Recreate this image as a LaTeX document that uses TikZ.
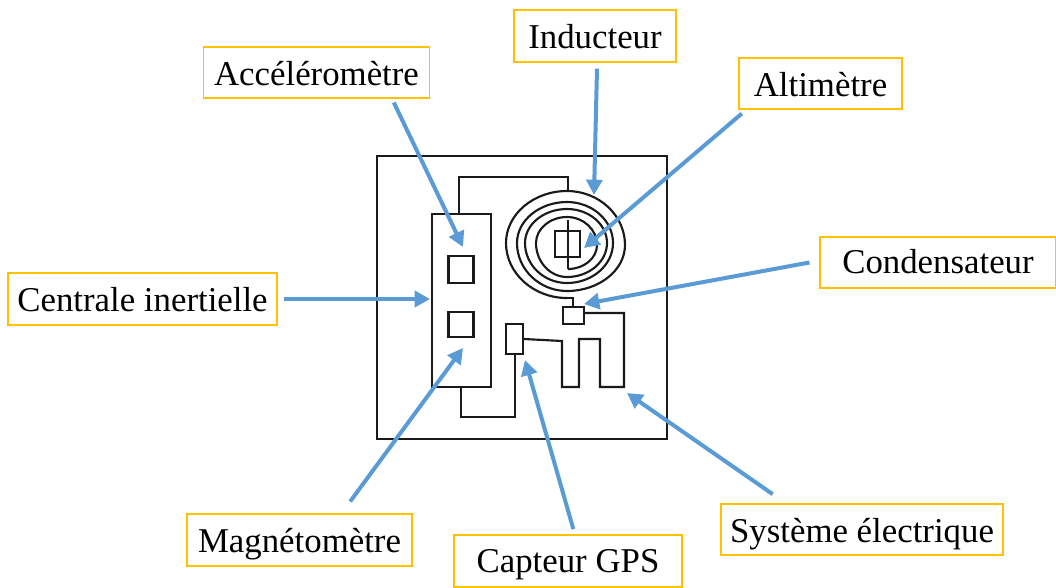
\documentclass[tikz,border=0pt]{standalone}
\usepackage{fontspec}
\setmainfont{Liberation Serif}
\usetikzlibrary{arrows.meta}
\definecolor{labelorange}{HTML}{FFC000}
\definecolor{arrowblue}{HTML}{5B9BD5}
\definecolor{inkblack}{HTML}{1A1A1A}
\newcommand{\lowtext}[2]{\raisebox{#1}[0pt][0pt]{#2}}
% quarter-ellipse pieces: from a point on the vertical axis to one on the horizontal axis, and back
\newcommand{\vtoh}[4]{.. controls ({#1+0.55*(#3-#1)},#2) and (#3,{#4+0.55*(#2-#4)}) .. (#3,#4)}
\newcommand{\htov}[4]{.. controls (#1,{#2+0.55*(#4-#2)}) and ({#3+0.55*(#1-#3)},#4) .. (#3,#4)}
\tikzset{
  x=0.75pt,y=-0.75pt,
  lab/.style={draw=labelorange,line width=0.8pt,inner sep=0pt,align=center,text height=20pt,text depth=4pt,font=\fontsize{26.1pt}{30pt}\selectfont,text=black},
  ink/.style={draw=inkblack,line width=1.6pt,line join=miter},
  part/.style={draw=inkblack,line width=1.6pt,inner sep=0pt,fill=white},
  arr/.style={draw=arrowblue,line width=3pt,-{Triangle[length=11.5pt,width=12pt]}}
}
\begin{document}
\begin{tikzpicture}
\useasboundingbox (0,0) rectangle (1056,587);
% frame
\node[part,fill=none,minimum width=217.5pt,minimum height=212.25pt] (frame) at (522,297.5) {};
% inertial unit and its sensors
\node[part,minimum width=44.25pt,minimum height=129.75pt] (imu) at (461.5,300.5) {};
\node[part,minimum width=18.75pt,minimum height=20.25pt] (sa) at (461,269.5) {};
\node[part,minimum width=18.75pt,minimum height=18.75pt] (sm) at (461,324.5) {};
% GPS sensor and capacitor
\node[part,minimum width=12.75pt,minimum height=22.5pt] (gps) at (514.5,339) {};
\node[part,minimum width=15.75pt,minimum height=12.75pt] (cap) at (573.5,315.5) {};
% altimeter
\node[part,fill=none,minimum width=18.75pt,minimum height=19.5pt] (alt) at (567.5,244) {};
% wiring
\draw[ink] (459,214) -- (459,177) -- (568,177) -- (568,191);
\draw[ink] (461,387) -- (461,417) -- (515,417) -- (515,354);
\draw[ink] (gps.east) -- (562,341) -- (562,387) -- (579,387) -- (579,339) -- (600,339) -- (600,387) -- (624,387) -- (624,313) -- (584,313);
\draw[ink] (567,298) -- (573,298) -- (573,308);
% coil
\draw[ink,line join=round] (568,269)
 \vtoh{568}{269}{597}{245} \htov{597}{245}{567}{217} \vtoh{567}{217}{536}{243} \htov{536}{243}{567}{277}
 \vtoh{567}{277}{607}{243} \htov{607}{243}{567}{209} \vtoh{567}{209}{525}{243} \htov{525}{243}{567}{283}
 \vtoh{567}{283}{613}{243} \htov{613}{243}{567}{202} \vtoh{567}{202}{517}{243} \htov{517}{243}{567}{291}
 \vtoh{567}{291}{625}{245} \htov{625}{245}{567}{191} \vtoh{567}{191}{506}{243} \htov{506}{243}{567}{298};
\draw[ink] (568,220) -- (568,269);
% labels
\node[lab,minimum width=170pt,minimum height=38.25pt] (lacc) at (316.5,72.5) {\lowtext{-1.75pt}{Accéléromètre}};
\node[lab,minimum width=121.5pt,minimum height=39pt] (lind) at (595,36) {\lowtext{-1.4pt}{Inducteur}};
\node[lab,minimum width=122.25pt,minimum height=38.25pt] (lalt) at (820.5,83.5) {\lowtext{-1.75pt}{Altimètre}};
\node[lab,minimum width=177pt,minimum height=38.25pt] (lcon) at (938,262.5) {\lowtext{-0.25pt}{Condensateur}};
\node[lab,minimum width=201.75pt,minimum height=39pt] (lcen) at (142.5,299) {\lowtext{-1pt}{Centrale inertielle}};
\node[lab,minimum width=168.75pt,minimum height=39pt] (lmag) at (299.5,540) {\lowtext{-1.4pt}{Magnétomètre}};
\node[lab,minimum width=171pt,minimum height=39pt] (lgps) at (568,561) {\lowtext{-0.6pt}{Capteur GPS}};
\node[lab,minimum width=211.5pt,minimum height=38.25pt] (lsys) at (862,529.5) {\lowtext{-1.75pt}{Système électrique}};
% arrow targets
\coordinate (tacc) at (463,247);
\coordinate (tind) at (594,195);
\coordinate (talt) at (584,248);
\coordinate (tcon) at (584,304);
\coordinate (tcen) at (430,299);
\coordinate (tmag) at (463,348);
\coordinate (tgps) at (525,360);
\coordinate (tsys) at (627,393);
% arrows
\draw[arr] ([xshift=58pt,yshift=-3pt]lacc.south) -- (tacc);
\draw[arr] ([xshift=1.5pt,yshift=-4.5pt]lind.south) -- (tind);
\draw[arr] ([xshift=-59pt,yshift=-3pt]lalt.south) -- (talt);
\draw[arr] ([xshift=-7.5pt]lcon.west) -- (tcon);
\draw[arr] ([xshift=5pt]lcen.east) -- (tcen);
\draw[arr] ([xshift=38pt,yshift=9pt]lmag.north) -- (tmag);
\draw[arr] ([xshift=4pt,yshift=4pt]lgps.north) -- (tgps);
\draw[arr] ([xshift=-67pt,yshift=7pt]lsys.north) -- (tsys);
\end{tikzpicture}
\end{document}
